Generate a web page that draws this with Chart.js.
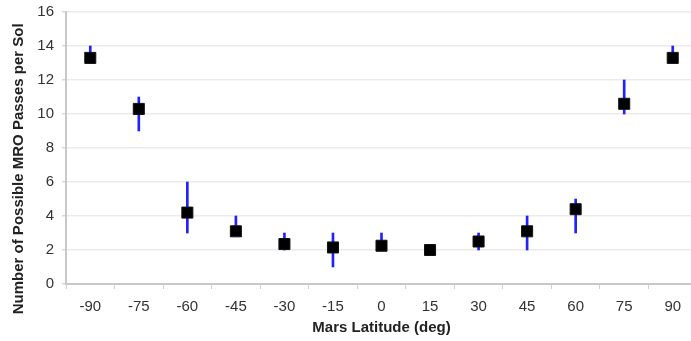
<!DOCTYPE html>
<html>
<head>
<meta charset="utf-8">
<script src="https://cdn.jsdelivr.net/npm/chart.js@4/dist/chart.umd.min.js"></script>
<style>
  html, body { margin: 0; padding: 0; background: #fff; overflow: hidden; }
  canvas { display: block; }
</style>
</head>
<body>
<canvas id="chart-mro" width="698" height="341"></canvas>
<script>
// Mars latitude categories and passes per sol
var latitudes = ["-90", "-75", "-60", "-45", "-30", "-15", "0", "15", "30", "45", "60", "75", "90"];
var passes = [13.3, 10.3, 4.2, 3.1, 2.35, 2.15, 2.25, 2.0, 2.5, 3.1, 4.4, 10.6, 13.3];
var rangeLow = [13, 9, 3, 3, 2, 1, 2, 2, 2, 2, 3, 10, 13];
var rangeHigh = [14, 11, 6, 4, 3, 3, 3, 2, 3, 4, 5, 12, 14];
var yTicks = [0, 2, 4, 6, 8, 10, 12, 14, 16];

var ranges = latitudes.map(function (_, i) {
  return [rangeLow[i], rangeHigh[i]];
});

var ctx = document.getElementById("chart-mro").getContext("2d");
new Chart(ctx, {
  type: "bar",
  data: {
    labels: latitudes,
    datasets: [
      {
        type: "line",
        label: "Passes",
        data: passes,
        showLine: false,
        pointStyle: "rect",
        pointRadius: 7.8,
        pointBackgroundColor: "#000",
        pointBorderColor: "#111",
        pointBorderWidth: 1,
        order: 0,
      },
      {
        label: "Range",
        data: ranges,
        backgroundColor: "#2222ff",
        barThickness: 2,
        borderSkipped: false,
        order: 1,
      },
    ],
  },
  options: {
    responsive: false,
    animation: false,
    layout: { autoPadding: false, padding: { top: 12, right: 1, left: 0, bottom: 0 } },
    plugins: {
      legend: { display: false },
      tooltip: { enabled: false },
    },
    scales: {
      x: {
        grid: {
          display: true,
          drawOnChartArea: false,
          drawTicks: true,
          tickLength: 5,
          color: "#d0d0d0",
        },
        border: { color: "#c8c8c8", width: 2 },
        ticks: {
          padding: 9,
          color: "#333",
          font: { size: 15, family: "Liberation Sans" },
        },
        title: {
          display: true,
          text: "Mars Latitude (deg)",
          color: "#222",
          padding: { top: 4, bottom: 4 },
          font: { size: 15, weight: "bold", family: "Liberation Sans" },
        },
        afterFit: function (scale) {
          scale.height = 57;
          scale.paddingLeft = 0;
          scale.paddingRight = 0;
        },
      },
      y: {
        min: 0,
        max: 16,
        afterBuildTicks: function (scale) {
          scale.ticks = yTicks.map(function (v) { return { value: v }; });
        },
        grid: {
          color: "#ebebeb",
          lineWidth: 1.5,
          tickLength: 4,
          tickColor: "#d8d8d8",
        },
        border: { color: "#c8c8c8", width: 2 },
        ticks: {
          padding: 8,
          color: "#333",
          font: { size: 15, family: "Liberation Sans" },
        },
        title: {
          display: true,
          // trailing spaces push the title a little down, as in the original
          text: "Number of Possible MRO Passes per Sol          ",
          color: "#222",
          padding: { top: 10, bottom: 2 },
          font: { size: 15, weight: "bold", family: "Liberation Sans" },
        },
        afterFit: function (scale) {
          scale.width = 66;
          scale.paddingTop = 0;
          scale.paddingBottom = 0;
        },
      },
    },
  },
});
</script>
</body>
</html>
